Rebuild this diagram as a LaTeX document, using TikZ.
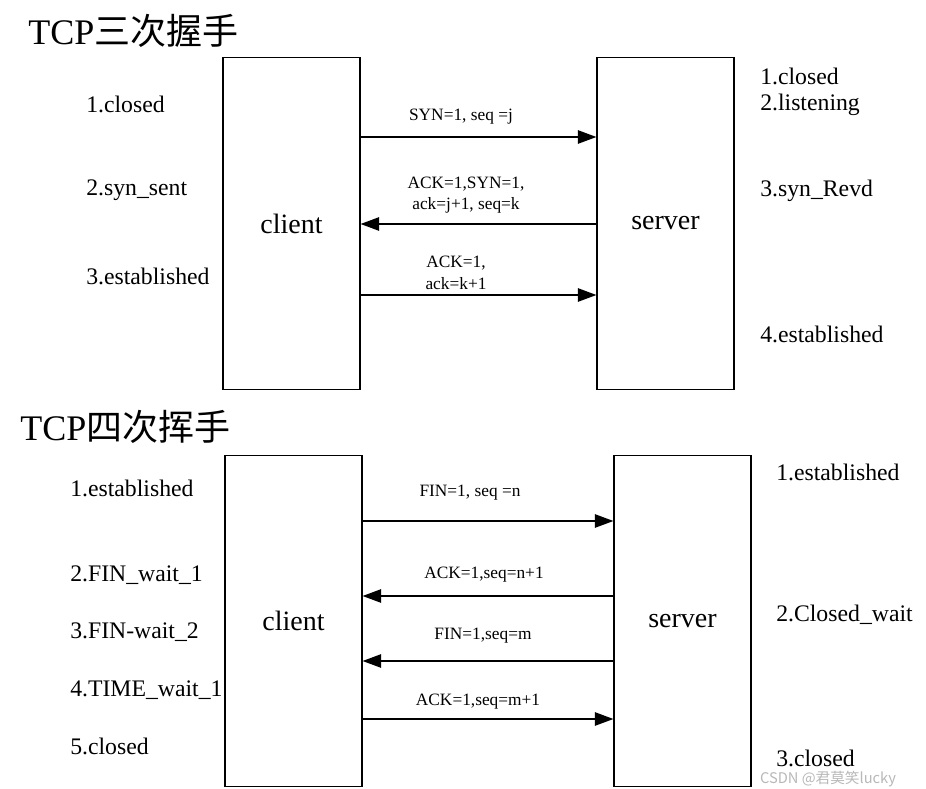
\documentclass[tikz,border=0pt]{standalone}
\usepackage{fontspec}
\setmainfont{Liberation Serif}
\newfontfamily\cjk{Noto Sans CJK SC}
\usepackage{tikz}
\usetikzlibrary{arrows.meta,calc}

\tikzset{
host/.style={draw, line width=0.8pt, minimum width=102.75pt, minimum height=248.5pt, font=\fontsize{21}{24}\selectfont},
msg/.style={line width=1.4pt, -{Triangle[length=14pt,width=10pt]}},
msglabel/.style={font=\fontsize{13}{16}\selectfont, inner sep=0pt, align=center},
state/.style={anchor=west, inner sep=0pt, font=\fontsize{17.8}{20}\selectfont},
title/.style={anchor=west, inner sep=0pt, font=\fontsize{27}{30}\selectfont}
}

\begin{document}
\begin{tikzpicture}[x=0.75pt, y=-0.75pt]
\useasboundingbox (0,0) rectangle (926,789);

% three-way handshake
\node[title] (t1) at (28,31) {TCP{\cjk 三次握手}};
\node[host] (c1) at (291.5,223.5) {client};
\node[host] (s1) at (665.5,223.5) {server};

\draw[msg] (c1.east |- 0,137) -- (s1.west |- 0,137);
\draw[msg] (s1.west |- 0,224) -- (c1.east |- 0,224);
\draw[msg] (c1.east |- 0,295) -- (s1.west |- 0,295);
\node[msglabel] (m1) at (461,117) {SYN=1, seq =j};
\node[msglabel] (m2) at (466,195) {ACK=1,SYN=1,\\ack=j+1, seq=k};
\node[msglabel] (m3) at (456,273) {ACK=1,\\ack=k+1};

\node[state] (cs1) at (86,104) {1.closed};
\node[state] (cs2) at (86,190) {2.syn\_sent};
\node[state] (cs3) at (86,276) {3.established};
\node[state] (ss1) at (760,76) {1.closed};
\node[state] (ss2) at (760,105) {2.listening};
\node[state] (ss3) at (760,191) {3.syn\_Revd};
\node[state] (ss4) at (760,334) {4.established};

% four-way wave
\node[title] (t2) at (20,427) {TCP{\cjk 四次挥手}};
\node[host] (c2) at (293.5,621) {client};
\node[host] (s2) at (682.5,621) {server};

\draw[msg] (c2.east |- 0,521) -- (s2.west |- 0,521);
\draw[msg] (s2.west |- 0,596) -- (c2.east |- 0,596);
\draw[msg] (s2.west |- 0,661) -- (c2.east |- 0,661);
\draw[msg] (c2.east |- 0,719) -- (s2.west |- 0,719);
\node[msglabel] (n1) at (470,493) {FIN=1, seq =n};
\node[msglabel] (n2) at (484,575) {ACK=1,seq=n+1};
\node[msglabel] (n3) at (483,636) {FIN=1,seq=m};
\node[msglabel] (n4) at (478,702) {ACK=1,seq=m+1};

\node[state] (cf1) at (70,488) {1.established};
\node[state] (cf2) at (70,575) {2.FIN\_wait\_1};
\node[state] (cf3) at (70,632) {3.FIN-wait\_2};
\node[state] (cf4) at (70,690) {4.TIME\_wait\_1};
\node[state] (cf5) at (70,746) {5.closed};
\node[state] (sf1) at (776,472) {1.established};
\node[state] (sf2) at (776,615) {2.Closed\_wait};
\node[state] (sf3) at (776,758) {3.closed};

\node[text=gray!70, opacity=0.8, inner sep=0pt, font=\cjk\fontsize{11}{12}\selectfont] (wm) at (828,779) {CSDN @君莫笑lucky};
\end{tikzpicture}
\end{document}
